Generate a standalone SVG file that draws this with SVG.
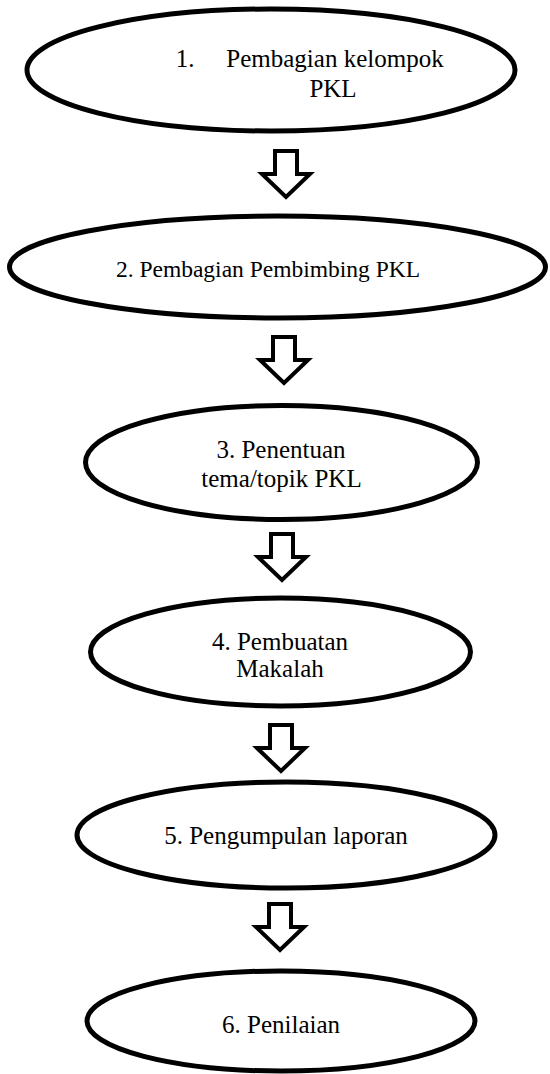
<svg xmlns="http://www.w3.org/2000/svg" xmlns:xlink="http://www.w3.org/1999/xlink" width="550" height="1074" viewBox="0 0 550 1074">
<style>
.node ellipse{fill:#fff;stroke:#000;stroke-width:5}
.node text{font-family:"Liberation Serif","Times New Roman",serif;font-size:25px;fill:#000;text-anchor:middle}
.arrow{fill:#fff;stroke:#000;stroke-width:4;stroke-linejoin:miter}
</style>
<defs>
<path id="downArrow" d="M-11,0 L11,0 L11,23 L24,23 L0,46 L-24,23 L-11,23 Z"/>
</defs>
<rect width="550" height="1074" fill="#fff"/>
<g id="node1" class="node">
<ellipse cx="271" cy="70" rx="244" ry="61"/>
<text x="185" y="67">1.</text>
<text x="335" y="67">Pembagian kelompok</text>
<text x="333" y="97">PKL</text>
</g>
<g id="node2" class="node">
<ellipse cx="277.5" cy="267" rx="268" ry="51"/>
<text x="268" y="277" style="font-size:23.5px">2. Pembagian Pembimbing PKL</text>
</g>
<g id="node3" class="node">
<ellipse cx="281.5" cy="462.5" rx="196" ry="57"/>
<text x="281" y="458">3. Penentuan</text>
<text x="281.5" y="487">tema/topik PKL</text>
</g>
<g id="node4" class="node">
<ellipse cx="280.5" cy="652" rx="190" ry="54"/>
<text x="280" y="650">4. Pembuatan</text>
<text x="280" y="677">Makalah</text>
</g>
<g id="node5" class="node">
<ellipse cx="286" cy="835" rx="209" ry="53"/>
<text x="286" y="844">5. Pengumpulan laporan</text>
</g>
<g id="node6" class="node">
<ellipse cx="281" cy="1021" rx="194" ry="50"/>
<text x="281" y="1033">6. Penilaian</text>
</g>
<g id="connectors">
<use xlink:href="#downArrow" class="arrow" transform="translate(286,151)"/>
<use xlink:href="#downArrow" class="arrow" transform="translate(284,337)"/>
<use xlink:href="#downArrow" class="arrow" transform="translate(282,534)"/>
<use xlink:href="#downArrow" class="arrow" transform="translate(281,725)"/>
<use xlink:href="#downArrow" class="arrow" transform="translate(280,904)"/>
</g>
</svg>
